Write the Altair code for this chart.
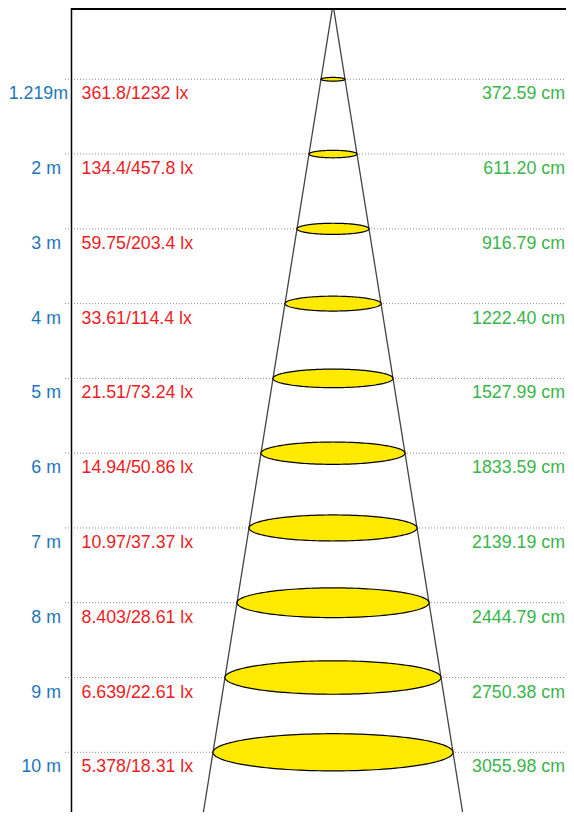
import altair as alt
import numpy as np
import pandas as pd

# ---- data ----
distance_labels = ["1.219m", "2 m", "3 m", "4 m", "5 m", "6 m", "7 m", "8 m", "9 m", "10 m"]
lux_labels = ["361.8/1232 lx", "134.4/457.8 lx", "59.75/203.4 lx", "33.61/114.4 lx",
              "21.51/73.24 lx", "14.94/50.86 lx", "10.97/37.37 lx", "8.403/28.61 lx",
              "6.639/22.61 lx", "5.378/18.31 lx"]
diameter_labels = ["372.59 cm", "611.20 cm", "916.79 cm", "1222.40 cm", "1527.99 cm",
                   "1833.59 cm", "2139.19 cm", "2444.79 cm", "2750.38 cm", "3055.98 cm"]
rows = list(range(1, len(distance_labels) + 1))

# ---- layout constants ----
W, H = 558, 804
PX_PER_X = 12.0          # horizontal pixels per unit of beam half-width
PX_PER_ROW = 74.78       # vertical pixels per row
APEX = (325.0, -3.5)     # apex position in chart pixels
ASPECT = 0.155           # ellipse height / width
FONT = "Liberation Sans"
FS = 17.8
BLUE, RED, GREEN = "#1c75bc", "#ed1c24", "#39b54a"
YELLOW = "#ffea00"


def ux(px):
    return (px - APEX[0]) / PX_PER_X


def uy(py):
    return (py - APEX[1]) / PX_PER_ROW


xs = alt.Scale(domain=[ux(0), ux(W)], nice=False, zero=False)
ys = alt.Scale(domain=[uy(0), uy(H)], nice=False, zero=False, reverse=True)

labels = pd.DataFrame({"row": rows, "dist": distance_labels,
                       "lux": lux_labels, "diam": diameter_labels})

# ellipse outlines (beam cross-sections), half-width = row units
t = np.linspace(0, np.pi, 81)
parts = []
for r in rows:
    a = float(r)
    b = ASPECT * a * PX_PER_X / PX_PER_ROW
    parts.append(pd.DataFrame({"row": r, "x": a * np.cos(t),
                               "y": r - b * np.sin(t), "y2": r + b * np.sin(t)}))
ell = pd.concat(parts, ignore_index=True)

y_bot = uy(H)
cone = pd.DataFrame({"side": ["l", "l", "r", "r"],
                     "x": [0.0, -y_bot, 0.0, y_bot],
                     "y": [0.0, y_bot, 0.0, y_bot]})

base = alt.Chart(labels)

dotted = base.mark_rule(color="#8a8a8a", strokeWidth=1, strokeDash=[1, 2]).encode(
    x=alt.X(datum=ux(57), scale=xs, axis=None),
    x2=alt.X2(datum=ux(W)),
    y=alt.Y("row:Q", scale=ys, axis=None),
)

top_line = alt.Chart(pd.DataFrame({"k": [0]})).mark_rule(color="black", strokeWidth=2).encode(
    x=alt.X(datum=ux(63.5), scale=xs, axis=None),
    x2=alt.X2(datum=ux(W)),
    y=alt.value(1),
)

left_line = alt.Chart(pd.DataFrame({"k": [0]})).mark_rule(color="black", strokeWidth=1.5).encode(
    x=alt.X(datum=ux(63.5), scale=xs, axis=None),
    y=alt.value(0),
    y2=alt.value(H),
)

cone_lines = alt.Chart(cone).mark_line(color="#444444", strokeWidth=1.3).encode(
    x=alt.X("x:Q", scale=xs, axis=None),
    y=alt.Y("y:Q", scale=ys, axis=None),
    detail="side:N",
)

ellipses = alt.Chart(ell).mark_area(fill=YELLOW, stroke="black", strokeWidth=1.2,
                                    opacity=1).encode(
    x=alt.X("x:Q", scale=xs, axis=None),
    y=alt.Y("y:Q", scale=ys, axis=None),
    y2="y2:Q",
    detail="row:N",
)

txt = dict(font=FONT, fontSize=FS, baseline="alphabetic", dy=20)

blue_first = base.transform_filter("datum.row == 1").mark_text(
    align="right", color=BLUE, **txt).encode(
    x=alt.X(datum=ux(60), scale=xs, axis=None),
    y=alt.Y("row:Q", scale=ys, axis=None),
    text="dist:N",
)
blue = base.transform_filter("datum.row > 1").mark_text(
    align="right", color=BLUE, **txt).encode(
    x=alt.X(datum=ux(53), scale=xs, axis=None),
    y=alt.Y("row:Q", scale=ys, axis=None),
    text="dist:N",
)
red = base.mark_text(align="left", color=RED, **txt).encode(
    x=alt.X(datum=ux(73.5), scale=xs, axis=None),
    y=alt.Y("row:Q", scale=ys, axis=None),
    text="lux:N",
)
green = base.mark_text(align="right", color=GREEN, **txt).encode(
    x=alt.X(datum=ux(557), scale=xs, axis=None),
    y=alt.Y("row:Q", scale=ys, axis=None),
    text="diam:N",
)

chart = alt.layer(dotted, cone_lines, ellipses, left_line, top_line,
                  blue_first, blue, red, green).properties(
    width=W, height=H, padding=0,
    autosize=alt.AutoSizeParams(type="none"),
    background="white",
).configure_view(stroke=None)

chart.save("out.html", embed_options={"renderer": "svg", "actions": False})
